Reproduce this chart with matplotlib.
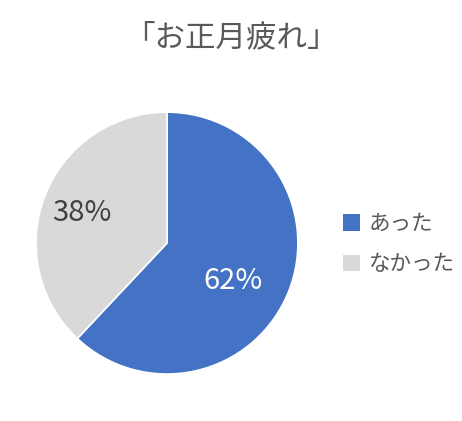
import numpy as np
import matplotlib
matplotlib.use('Agg')
import matplotlib.pyplot as plt
from matplotlib.patches import Patch

plt.rcParams['font.family'] = ['Noto Sans CJK JP', 'DejaVu Sans']

title = "「お正月疲れ」"
labels = ["あった", "なかった"]
values = [62, 38]
colors = ["#4472C4", "#D9D9D9"]
text_colors = ["white", "#404040"]

fig = plt.figure(figsize=(4.62, 4.21), dpi=100)
ax = fig.add_axes([0.0779, 0.1116, 0.567, 0.622])

wedges, _, autotexts = ax.pie(values, colors=colors, startangle=90, counterclock=False,
                               autopct='%d%%', pctdistance=0.62,
                               wedgeprops=dict(edgecolor='white', linewidth=1.2))
ax.set_aspect('equal')
ax.set_xlim(-1, 1)
ax.set_ylim(-1, 1)

# label placement (polar, in radius units) tuned to the reference
label_pos = [(-30, 0.58), (160.6, 0.69)]
for t, c, (ang, r) in zip(autotexts, text_colors, label_pos):
    a = np.deg2rad(ang)
    t.set_position((r * np.cos(a), r * np.sin(a)))
    t.set_color(c)
    t.set_fontsize(21)

fig.text(0.5, 0.91, title, ha='center', va='center', fontsize=22, color='#595959')

handles = [Patch(facecolor=c, edgecolor='none') for c in colors]
fig.legend(handles, labels, loc='center left', bbox_to_anchor=(0.7, 0.42),
           frameon=False, fontsize=15.5, labelcolor='#595959',
           handlelength=0.8, handleheight=0.8, handletextpad=0.4, labelspacing=0.85)

fig.savefig('out.png', dpi=100, facecolor='white')
